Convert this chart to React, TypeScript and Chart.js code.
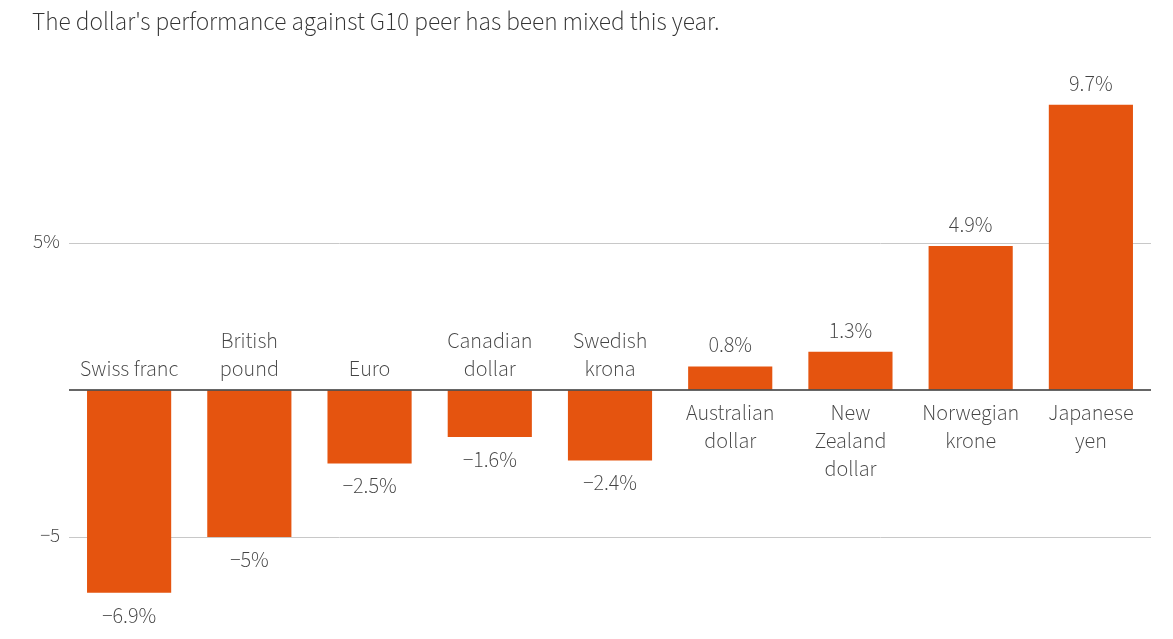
import React, { useEffect, useRef } from "react";
import { Chart, registerables } from "chart.js";

Chart.register(...registerables);

const title = "The dollar's performance against G10 peer has been mixed this year.";
const categories: string[][] = [
  ["Swiss franc"],
  ["British", "pound"],
  ["Euro"],
  ["Canadian", "dollar"],
  ["Swedish", "krona"],
  ["Australian", "dollar"],
  ["New", "Zealand", "dollar"],
  ["Norwegian", "krone"],
  ["Japanese", "yen"],
];
const values: number[] = [-6.9, -5, -2.5, -1.6, -2.4, 0.8, 1.3, 4.9, 9.7];
const valueLabels: string[] = ["−6.9%", "−5%", "−2.5%", "−1.6%", "−2.4%", "0.8%", "1.3%", "4.9%", "9.7%"];
const yTicks: number[] = [-5, 0, 5];
const yTickLabels: string[] = ["−5", "", "5%"];

const FONT = "'Source Sans Pro', 'Source Sans 3', Lato, 'Noto Sans', sans-serif";
const BAR = "#e5540f";
const TEXT = "#444444";

const labelsPlugin = {
  id: "labelsPlugin",
  afterDatasetsDraw(chart: any) {
    const ctx = chart.ctx;
    const meta = chart.getDatasetMeta(0);
    const y = chart.scales.y;
    const area = chart.chartArea;
    const zeroY = y.getPixelForValue(0);
    ctx.save();
    ctx.strokeStyle = "#333333";
    ctx.lineWidth = 1.5;
    ctx.beginPath();
    ctx.moveTo(area.left, zeroY);
    ctx.lineTo(area.right, zeroY);
    ctx.stroke();

    ctx.fillStyle = TEXT;
    ctx.textAlign = "center";
    ctx.textBaseline = "middle";
    ctx.font = `300 22px ${FONT}`;
    const lineH = 28;
    meta.data.forEach((bar: any, i: number) => {
      const v = values[i];
      const x = bar.x;
      if (v >= 0) {
        ctx.fillText(valueLabels[i], x, bar.y - 19);
        categories[i].forEach((line, j) => {
          ctx.fillText(line, x, zeroY + 25 + j * lineH);
        });
      } else {
        ctx.fillText(valueLabels[i], x, bar.y + 25);
        const n = categories[i].length;
        categories[i].forEach((line, j) => {
          ctx.fillText(line, x, zeroY - 19 - (n - 1 - j) * lineH);
        });
      }
    });
    ctx.textAlign = "left";
    ctx.font = `300 25.2px ${FONT}`;
    ctx.fillStyle = "#333333";
    ctx.fillText(title, 32, 24);
    ctx.restore();
  },
};

export default function App() {
  const ref = useRef<HTMLCanvasElement | null>(null);
  useEffect(() => {
    if (!ref.current) return;
    const chart = new Chart(ref.current, {
      type: "bar",
      data: {
        labels: categories.map((c) => c.join(" ")),
        datasets: [
          {
            data: values,
            backgroundColor: BAR,
            borderWidth: 0,
            barPercentage: 0.7,
            categoryPercentage: 1,
          },
        ],
      },
      plugins: [labelsPlugin],
      options: {
        animation: false,
        responsive: false,
        devicePixelRatio: 1,
        layout: { padding: { top: 66.6, bottom: 13.8, left: 0, right: 22 } },
        plugins: { legend: { display: false }, tooltip: { enabled: false }, title: { display: false } },
        scales: {
          x: { display: false },
          y: {
            min: -8,
            max: 11,
            afterBuildTicks: (axis: any) => {
              axis.ticks = yTicks.map((v) => ({ value: v }));
            },
            afterFit: (axis: any) => {
              axis.width = 69;
              axis.paddingTop = 0;
              axis.paddingBottom = 0;
            },
            border: { display: false },
            grid: {
              drawTicks: false,
              color: (c: any) => (c.tick && c.tick.value === 0 ? "rgba(0,0,0,0)" : "#c8c8c8"),
              lineWidth: 1,
            },
            ticks: {
              padding: 9,
              color: TEXT,
              font: { family: FONT, size: 21, weight: "300" },
              callback: (v: any) => {
                const i = yTicks.indexOf(Number(v));
                return i >= 0 ? yTickLabels[i] : "";
              },
            },
          },
        },
      },
    });
    return () => chart.destroy();
  }, []);
  return (
    <div style={{ position: "absolute", left: 0, top: 0, width: 1173, height: 639, background: "#fff" }}>
      <canvas ref={ref} width={1173} height={639} style={{ width: 1173, height: 639 }} />
    </div>
  );
}
